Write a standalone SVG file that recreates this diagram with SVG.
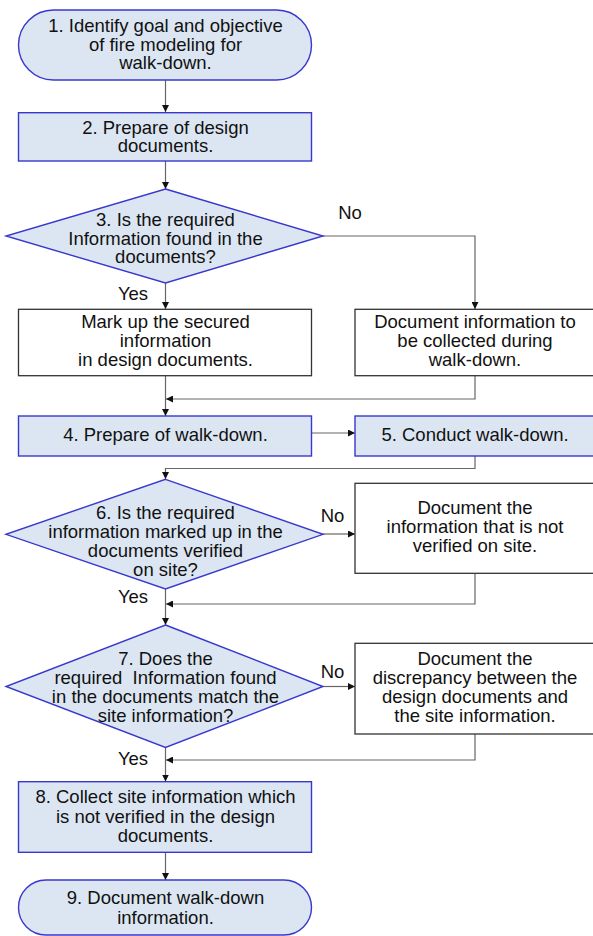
<svg xmlns="http://www.w3.org/2000/svg" width="593" height="936" viewBox="0 0 593 936">
<defs>
<style>
.blue{fill:#dce6f3;stroke:#3838cc;stroke-width:1.4}
.white{fill:#ffffff;stroke:#333333;stroke-width:1.3}
.t{font-family:"Liberation Sans",Arial,sans-serif;font-size:18.5px;fill:#111111;text-anchor:middle}
.c{fill:none;stroke:#666666;stroke-width:1.2}
</style>
<marker id="ah" viewBox="0 0 10 10" refX="10" refY="5" markerWidth="7" markerHeight="7" markerUnits="userSpaceOnUse" orient="auto">
<path d="M0,0 L10,5 L0,10 Z" fill="#111111"/>
</marker>
</defs>
<rect width="593" height="936" fill="#ffffff"/>

<g id="connectors">
<path class="c" d="M165.5,80 V112" marker-end="url(#ah)"/>
<path class="c" d="M165.5,161 V189" marker-end="url(#ah)"/>
<path class="c" d="M165.5,283 V309" marker-end="url(#ah)"/>
<path class="c" d="M323,236 H475 V309" marker-end="url(#ah)"/>
<path class="c" d="M165.5,376 V416" marker-end="url(#ah)"/>
<path class="c" d="M475,376 V399 H166" marker-end="url(#ah)"/>
<path class="c" d="M312,433 H355" marker-end="url(#ah)"/>
<path class="c" d="M475,456 V468.5 H165.5 V479" marker-end="url(#ah)"/>
<path class="c" d="M323,534 H355" marker-end="url(#ah)"/>
<path class="c" d="M165.5,589 V625" marker-end="url(#ah)"/>
<path class="c" d="M475,573.5 V604 H166" marker-end="url(#ah)"/>
<path class="c" d="M323,686.5 H355" marker-end="url(#ah)"/>
<path class="c" d="M165.5,747.5 V781.5" marker-end="url(#ah)"/>
<path class="c" d="M475,734 V760 H166" marker-end="url(#ah)"/>
<path class="c" d="M165.5,852.5 V880" marker-end="url(#ah)"/>
</g>

<g id="n1">
<rect class="blue" x="18.5" y="10" width="293" height="70" rx="35" ry="35"/>
<text class="t" x="165.5" y="32">1. Identify goal and objective</text>
<text class="t" x="165.5" y="50.5">of fire modeling for</text>
<text class="t" x="165.5" y="69">walk-down.</text>
</g>

<g id="n2">
<rect class="blue" x="18.5" y="112.7" width="293" height="48.3"/>
<text class="t" x="165.5" y="133.5">2. Prepare of design</text>
<text class="t" x="165.5" y="152">documents.</text>
</g>

<g id="n3">
<polygon class="blue" points="165.5,189 323,236 165.5,283 6,236"/>
<text class="t" x="165.5" y="226">3. Is the required</text>
<text class="t" x="165.5" y="244.5">Information found in the</text>
<text class="t" x="165.5" y="263">documents?</text>
</g>

<g id="lbl3no"><text class="t" x="350" y="219">No</text></g>
<g id="lbl3yes"><text class="t" x="133" y="300">Yes</text></g>

<g id="markup">
<rect class="white" x="18.5" y="309.3" width="293" height="66.4"/>
<text class="t" x="165.5" y="328">Mark up the secured</text>
<text class="t" x="165.5" y="347">information</text>
<text class="t" x="165.5" y="366">in design documents.</text>
</g>

<g id="docinfo">
<rect class="white" x="355" y="309.3" width="240" height="66.4"/>
<text class="t" x="475" y="328">Document information to</text>
<text class="t" x="475" y="347">be collected during</text>
<text class="t" x="475" y="366">walk-down.</text>
</g>

<g id="n4">
<rect class="blue" x="18.5" y="416" width="293" height="40"/>
<text class="t" x="165.5" y="441">4. Prepare of walk-down.</text>
</g>

<g id="n5">
<rect class="blue" x="355" y="416" width="240" height="40"/>
<text class="t" x="475" y="441">5. Conduct walk-down.</text>
</g>

<g id="n6">
<polygon class="blue" points="165.5,479.3 323,534.3 165.5,589 6,534.3"/>
<text class="t" x="165.5" y="518.5">6. Is the required</text>
<text class="t" x="165.5" y="537.5">information marked up in the</text>
<text class="t" x="165.5" y="556.5">documents verified</text>
<text class="t" x="165.5" y="575.5">on site?</text>
</g>

<g id="lbl6no"><text class="t" x="332.5" y="522">No</text></g>
<g id="lbl6yes"><text class="t" x="133" y="603">Yes</text></g>

<g id="docnot">
<rect class="white" x="355" y="483.3" width="240" height="90"/>
<text class="t" x="475" y="513.5">Document the</text>
<text class="t" x="475" y="532.5">information that is not</text>
<text class="t" x="475" y="551.5">verified on site.</text>
</g>

<g id="n7">
<polygon class="blue" points="165.5,625 323,686.5 165.5,747.5 6,686.5"/>
<text class="t" x="165.5" y="665">7. Does the</text>
<text class="t" x="165.5" y="684">required&#160; Information found</text>
<text class="t" x="165.5" y="703">in the documents match the</text>
<text class="t" x="165.5" y="722">site information?</text>
</g>

<g id="lbl7no"><text class="t" x="332.5" y="678">No</text></g>
<g id="lbl7yes"><text class="t" x="133" y="765">Yes</text></g>

<g id="docdisc">
<rect class="white" x="355" y="643.3" width="240" height="90.7"/>
<text class="t" x="475" y="665">Document the</text>
<text class="t" x="475" y="684">discrepancy between the</text>
<text class="t" x="475" y="703">design documents and</text>
<text class="t" x="475" y="722">the site information.</text>
</g>

<g id="n8">
<rect class="blue" x="18.5" y="781.7" width="293" height="70.6"/>
<text class="t" x="165.5" y="803">8. Collect site information which</text>
<text class="t" x="165.5" y="822.5">is not verified in the design</text>
<text class="t" x="165.5" y="842">documents.</text>
</g>

<g id="n9">
<rect class="blue" x="18.5" y="880" width="293" height="55" rx="27.5" ry="27.5"/>
<text class="t" x="165.5" y="904">9. Document walk-down</text>
<text class="t" x="165.5" y="923.5">information.</text>
</g>
</svg>
